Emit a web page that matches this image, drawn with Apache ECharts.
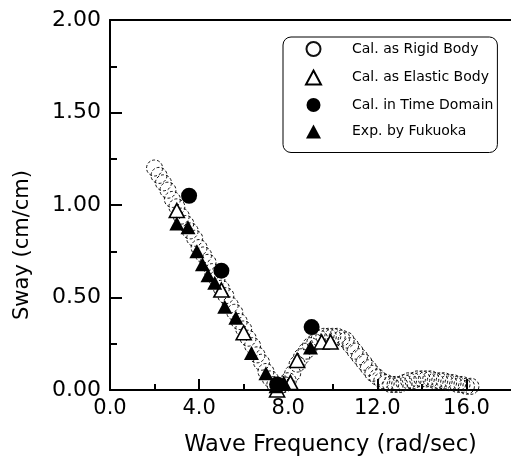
<!DOCTYPE html>
<html>
<head>
<meta charset="utf-8">
<script src="https://cdn.jsdelivr.net/npm/echarts@6/dist/echarts.min.js"></script>
<style>html,body{margin:0;padding:0;background:#fff;}#c{width:511px;height:462px;}</style>
</head>
<body>
<div id="c"></div>
<script>
const xTickLabels = [0, 4, 8, 12, 16];
const xMinorTicks = [2, 6, 10, 14];
const yTickLabels = [0, 0.5, 1.0, 1.5, 2.0];

const rigidX = [2.0,2.2,2.4,2.6,2.8,3.0,3.2,3.4,3.6,3.8,4.0,4.2,4.4,4.6,4.8,5.0,5.2,5.4,5.6,5.8,6.0,6.2,6.4,6.6,6.8,7.0,7.2,7.4,7.6,7.8,8.0,8.2,8.4,8.6,8.8,9.0,9.2,9.4,9.6,9.8,10.0,10.2,10.4,10.6,10.8,11.0,11.2,11.4,11.6,11.8,12.0,12.2,12.4,12.6,12.8,13.0,13.2,13.4,13.6,13.8,14.0,14.2,14.4,14.6,14.8,15.0,15.2,15.4,15.6,15.8,16.0,16.2];
const rigidY = [1.20,1.16,1.12,1.08,1.03,0.99,0.94,0.90,0.86,0.82,0.77,0.73,0.69,0.64,0.60,0.55,0.51,0.46,0.42,0.37,0.33,0.28,0.24,0.19,0.15,0.10,0.06,0.03,0.02,0.03,0.05,0.09,0.14,0.18,0.21,0.24,0.26,0.28,0.29,0.29,0.29,0.29,0.28,0.27,0.24,0.21,0.18,0.15,0.12,0.09,0.07,0.05,0.04,0.03,0.03,0.03,0.04,0.05,0.05,0.06,0.06,0.06,0.06,0.05,0.05,0.05,0.04,0.04,0.03,0.03,0.02,0.02];

const elasticX = [3.0, 5.0, 6.0, 7.5, 8.1, 8.4, 9.5, 9.9];
const elasticY = [0.97, 0.54, 0.31, 0.00, 0.04, 0.16, 0.26, 0.26];

const timeX = [3.55, 5.0, 7.5, 9.05];
const timeY = [1.05, 0.645, 0.03, 0.34];

const expX = [3.0, 3.5, 3.9, 4.15, 4.4, 4.7, 5.15, 5.65, 6.35, 7.0, 7.45, 7.8, 9.0];
const expY = [0.90, 0.88, 0.75, 0.68, 0.62, 0.58, 0.45, 0.39, 0.20, 0.09, 0.02, 0.04, 0.23];

const seriesNames = ['Cal. as Rigid Body', 'Cal. as Elastic Body', 'Cal. in Time Domain', 'Exp. by Fukuoka'];

function pairs(xs, ys) { return xs.map((x, i) => [x, ys[i]]); }

const FONT = 'DejaVu Sans';
const chart = echarts.init(document.getElementById('c'), null, {renderer: 'canvas'});
chart.setOption({
  backgroundColor: '#ffffff',
  animation: false,
  textStyle: {fontFamily: FONT, color: '#000'},
  grid: {left: 110, right: 0, top: 20, bottom: 72, containLabel: false},
  legend: {
    orient: 'vertical',
    left: 283, top: 37,
    data: seriesNames,
    itemWidth: 15, itemHeight: 14, itemGap: 12.5,
    padding: [4, 4, 14, 22],
    borderColor: '#000', borderWidth: 1, borderRadius: 8,
    backgroundColor: '#fff',
    textStyle: {fontFamily: FONT, fontSize: 14, color: '#000', padding: [0, 0, 0, 26]}
  },
  xAxis: [
    {
      type: 'value', min: 0, max: 18, position: 'bottom',
      axisLine: {show: true, onZero: false, lineStyle: {color: '#000', width: 2}},
      axisTick: {show: true, inside: true, length: 11, customValues: xTickLabels, lineStyle: {color: '#000', width: 2}},
      axisLabel: {customValues: xTickLabels, formatter: v => v.toFixed(1), fontFamily: FONT, fontSize: 21, color: '#000', margin: 8},
      splitLine: {show: false},
      name: 'Wave Frequency (rad/sec)', nameLocation: 'middle', nameGap: 44,
      nameTextStyle: {fontFamily: FONT, fontSize: 22.5, color: '#000', padding: [0, 0, 0, 40]}
    },
    {
      type: 'value', min: 0, max: 18, position: 'bottom',
      axisLine: {show: false},
      axisTick: {show: true, inside: true, length: 6, customValues: xMinorTicks, lineStyle: {color: '#000', width: 2}},
      axisLabel: {show: false},
      splitLine: {show: false}
    },
    {
      type: 'value', min: 0, max: 18, position: 'top',
      axisLine: {show: true, onZero: false, lineStyle: {color: '#000', width: 2}},
      axisTick: {show: false}, axisLabel: {show: false}, splitLine: {show: false}
    }
  ],
  yAxis: {
    type: 'value', min: 0, max: 2, interval: 0.5,
    axisLine: {show: true, onZero: false, lineStyle: {color: '#000', width: 2}},
    axisTick: {show: true, inside: true, length: 12, lineStyle: {color: '#000', width: 2}},
    minorTick: {show: true, splitNumber: 2, length: 7, lineStyle: {color: '#000', width: 2}},
    axisLabel: {formatter: v => v.toFixed(2), fontFamily: FONT, fontSize: 22, color: '#000', margin: 9},
    splitLine: {show: false},
    name: 'Sway (cm/cm)', nameLocation: 'middle', nameGap: 77, nameRotate: 90,
    nameTextStyle: {fontFamily: FONT, fontSize: 21, color: '#000', padding: [0, 80, 0, 0]}
  },
  series: [
    {
      name: seriesNames[0], type: 'scatter', data: pairs(rigidX, rigidY),
      symbol: 'circle', symbolSize: 16, z: 2,
      itemStyle: {color: 'rgba(255,255,255,0)', borderColor: '#111', borderWidth: 1, borderType: [3, 2], opacity: 1}
    },
    {
      name: seriesNames[1], type: 'scatter', data: pairs(elasticX, elasticY),
      symbol: 'triangle', symbolSize: [15, 14], z: 3,
      itemStyle: {color: '#fff', borderColor: '#000', borderWidth: 1.6, opacity: 1}
    },
    {
      name: seriesNames[2], type: 'scatter', data: pairs(timeX, timeY),
      symbol: 'circle', symbolSize: 16, z: 4,
      itemStyle: {color: '#000', opacity: 1}
    },
    {
      name: seriesNames[3], type: 'scatter', data: pairs(expX, expY),
      symbol: 'triangle', symbolSize: [15, 14], z: 5,
      itemStyle: {color: '#000', opacity: 1}
    }
  ]
});
</script>
</body>
</html>
